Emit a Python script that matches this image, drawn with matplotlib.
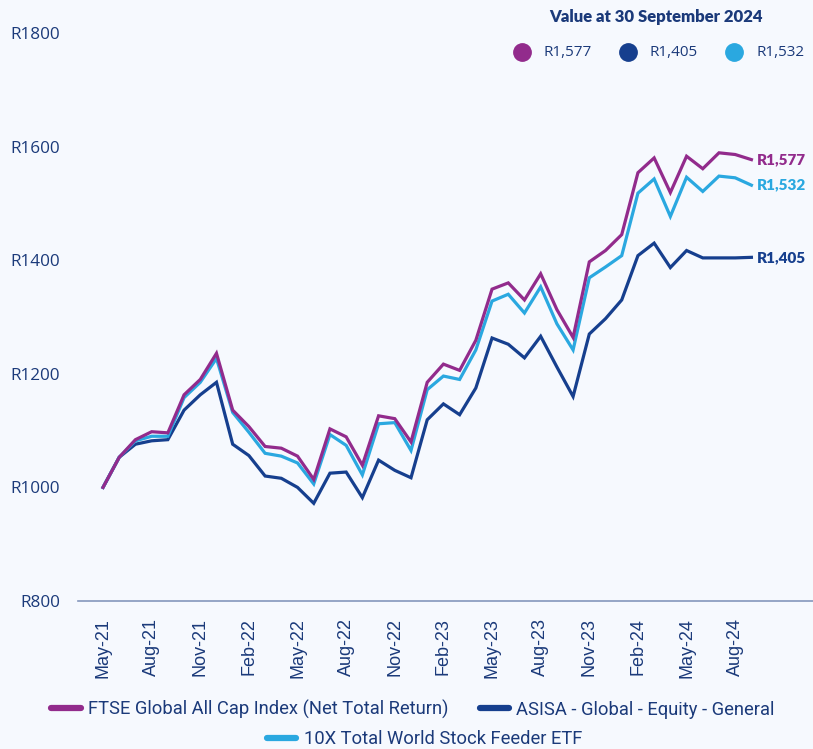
import matplotlib.pyplot as plt
from matplotlib.lines import Line2D

# month-end values, May-21 .. Sep-24 (start = R1000)
months = ["May-21", "Jun-21", "Jul-21", "Aug-21", "Sep-21", "Oct-21", "Nov-21", "Dec-21",
          "Jan-22", "Feb-22", "Mar-22", "Apr-22", "May-22", "Jun-22", "Jul-22", "Aug-22",
          "Sep-22", "Oct-22", "Nov-22", "Dec-22", "Jan-23", "Feb-23", "Mar-23", "Apr-23",
          "May-23", "Jun-23", "Jul-23", "Aug-23", "Sep-23", "Oct-23", "Nov-23", "Dec-23",
          "Jan-24", "Feb-24", "Mar-24", "Apr-24", "May-24", "Jun-24", "Jul-24", "Aug-24",
          "Sep-24"]

ftse = [1000, 1053, 1084, 1098, 1096, 1163, 1190, 1236, 1136, 1107, 1072, 1069, 1055, 1014,
        1103, 1089, 1039, 1126, 1121, 1080, 1185, 1217, 1206, 1259, 1349, 1360, 1330, 1376,
        1313, 1264, 1397, 1417, 1445, 1554, 1580, 1519, 1583, 1561, 1589, 1586, 1577]
asisa = [1000, 1053, 1076, 1082, 1084, 1136, 1163, 1185, 1076, 1056, 1020, 1016, 1000, 972,
         1025, 1027, 982, 1048, 1030, 1017, 1119, 1147, 1128, 1175, 1263, 1252, 1228, 1266,
         1212, 1160, 1270, 1297, 1330, 1408, 1430, 1387, 1417, 1404, 1404, 1404, 1405]
etf = [1000, 1053, 1082, 1090, 1090, 1158, 1185, 1227, 1132, 1097, 1060, 1055, 1043, 1006,
       1093, 1074, 1022, 1112, 1114, 1065, 1172, 1196, 1190, 1242, 1328, 1340, 1307, 1353,
       1288, 1242, 1369, 1388, 1408, 1518, 1543, 1477, 1546, 1521, 1548, 1545, 1532]

names = ["FTSE Global All Cap Index (Net Total Return)",
         "ASISA - Global - Equity - General",
         "10X Total World Stock Feeder ETF"]
end_labels = ["R1,577", "R1,405", "R1,532"]
yticks = [800, 1000, 1200, 1400, 1600, 1800]

PURPLE = "#922B8C"
NAVY = "#163F8E"
LIGHT = "#2AA8E0"
TEXT = "#1B3A7A"
BG = "#F6F9FE"

fig = plt.figure(figsize=(8.13, 7.49), dpi=100, facecolor=BG)
ax = fig.add_axes([0.096, 0.1976, 0.904, 0.7584], facecolor=BG)

x = list(range(len(months)))
series = [ftse, asisa, etf]
colors = [PURPLE, NAVY, LIGHT]
# navy first so purple/light sit on top like the reference
for idx in [1, 2, 0]:
    ax.plot(x, series[idx], color=colors[idx], lw=2.3, solid_joinstyle="miter")

ax.set_ylim(800, 1800)
ax.set_xlim(-1.54, 43.8)
ax.set_yticks(yticks)
ax.set_yticklabels(["R%d" % v for v in yticks], fontsize=12.3, color=TEXT,
                   family="Open Sans")
ax.set_xticks(x[::3])
ax.set_xticklabels(months[::3], rotation=90, fontsize=13, color=TEXT,
                   family="Liberation Sans")
ax.tick_params(axis="both", length=0)
ax.tick_params(axis="y", pad=13)
ax.tick_params(axis="x", pad=12)
for s in ["top", "right", "left"]:
    ax.spines[s].set_visible(False)
ax.spines["bottom"].set_color("#8497BC")
ax.spines["bottom"].set_linewidth(1.2)

# end-of-line value labels
end_y = [ftse[-1], asisa[-1], etf[-1]]
for val, lab, c in zip(end_y, end_labels, colors):
    ax.text(x[-1] + 0.35, val, lab, color=c, fontsize=11, fontweight="heavy",
            family="Lato", va="center", ha="left")

# header: value at date with coloured dots
fig.text(0.807, 0.977, "Value at 30 September 2024", ha="center", va="center",
         fontsize=12, fontweight="heavy", color=TEXT, family="Lato")
dot_x = [0.642, 0.772, 0.903]
for dx, lab, c in zip(dot_x, end_labels, colors):
    fig.add_artist(Line2D([dx], [0.930], marker="o", markersize=12.5, color=c,
                          transform=fig.transFigure))
    fig.text(dx + 0.027, 0.930, lab, ha="left", va="center", fontsize=11,
             color=TEXT, family="Open Sans")

# legend
handles = [Line2D([], [], color=c, lw=4.5, solid_capstyle="round") for c in colors]
leg_font = {"family": "Roboto", "size": 13.2}
leg1 = fig.legend(handles[:2], names[:2], loc="center", bbox_to_anchor=(0.508, 0.053),
                  ncol=2, frameon=False, handlelength=1.6, handletextpad=0.4,
                  columnspacing=1.7, prop=leg_font)
for t in leg1.get_texts():
    t.set_color(TEXT)
leg2 = fig.legend(handles[2:], names[2:], loc="center", bbox_to_anchor=(0.522, 0.013),
                  frameon=False, handlelength=1.6, handletextpad=0.4, prop=leg_font)
for t in leg2.get_texts():
    t.set_color(TEXT)

fig.savefig("out.png", dpi=100, facecolor=BG)
